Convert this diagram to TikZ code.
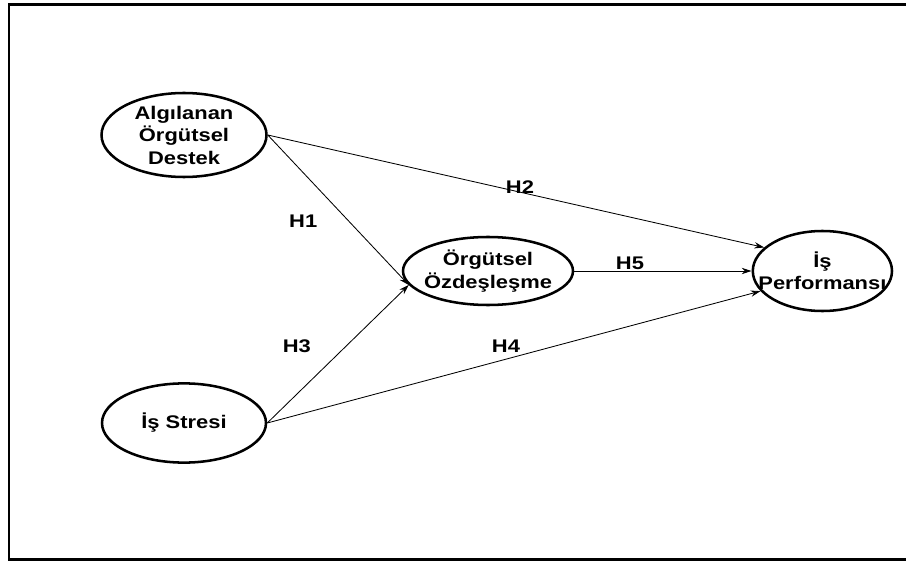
\documentclass[tikz,border=0pt]{standalone}
\usepackage{fontspec}
\setmainfont{Liberation Sans}
\newfontfamily\widesans{Liberation Sans}[FakeStretch=1.2]
\usepackage{tikz}
\usetikzlibrary{shapes, positioning, arrows.meta}

\begin{document}
\begin{tikzpicture}[
        construct/.style={ellipse, draw, line width=1.8pt, inner xsep=-0.45cm, inner ysep=-4pt, align=center,
            font=\widesans\fontsize{13}{16}\selectfont\bfseries},
        path/.style={-{Stealth[length=7pt, width=4.5pt]}, line width=0.6pt},
        hyp/.style={font=\widesans\fontsize{13}{16}\selectfont\bfseries}
    ]
        \useasboundingbox (0, 0) rectangle (22.65, 14.075);
        \draw[line width=2pt] (22.7, 13.96) -- (0.225, 13.96) -- (0.225, 0.09) -- (22.7, 0.09);

        \node[construct, minimum width=4.125cm, minimum height=2.1cm] (aod) at (4.6, 10.7) {Algılanan\\Örgütsel\\Destek};
        \node[construct, minimum width=4.25cm, minimum height=1.7cm] (oo) at (12.2, 7.3) {Örgütsel\\Özdeşleşme};
        \node[construct, minimum width=3.48cm, minimum height=2.0cm] (ip) at (20.56, 7.3) {İş\\Performansı};
        \node[construct, minimum width=4.1cm, minimum height=1.98cm] (is) at (4.6, 3.5) {İş Stresi};

        \node[hyp] (h1) at (7.58, 8.55) {H1};
        \node[hyp] (h2) at (13.0, 9.4) {H2};
        \node[hyp] (h3) at (7.42, 5.43) {H3};
        \node[hyp] (h4) at (12.65, 5.43) {H4};
        \node[hyp] (h5) at (15.75, 7.5) {H5};

        \draw[path] (aod.east) to (oo.190);
        \draw[path] (aod.east) to (ip.158);
        \draw[path] (is.east) to (oo.190);
        \draw[path] (is.east) to (ip.198);
        \draw[path] (oo.east) to (ip.west);
    \end{tikzpicture}
\end{document}
